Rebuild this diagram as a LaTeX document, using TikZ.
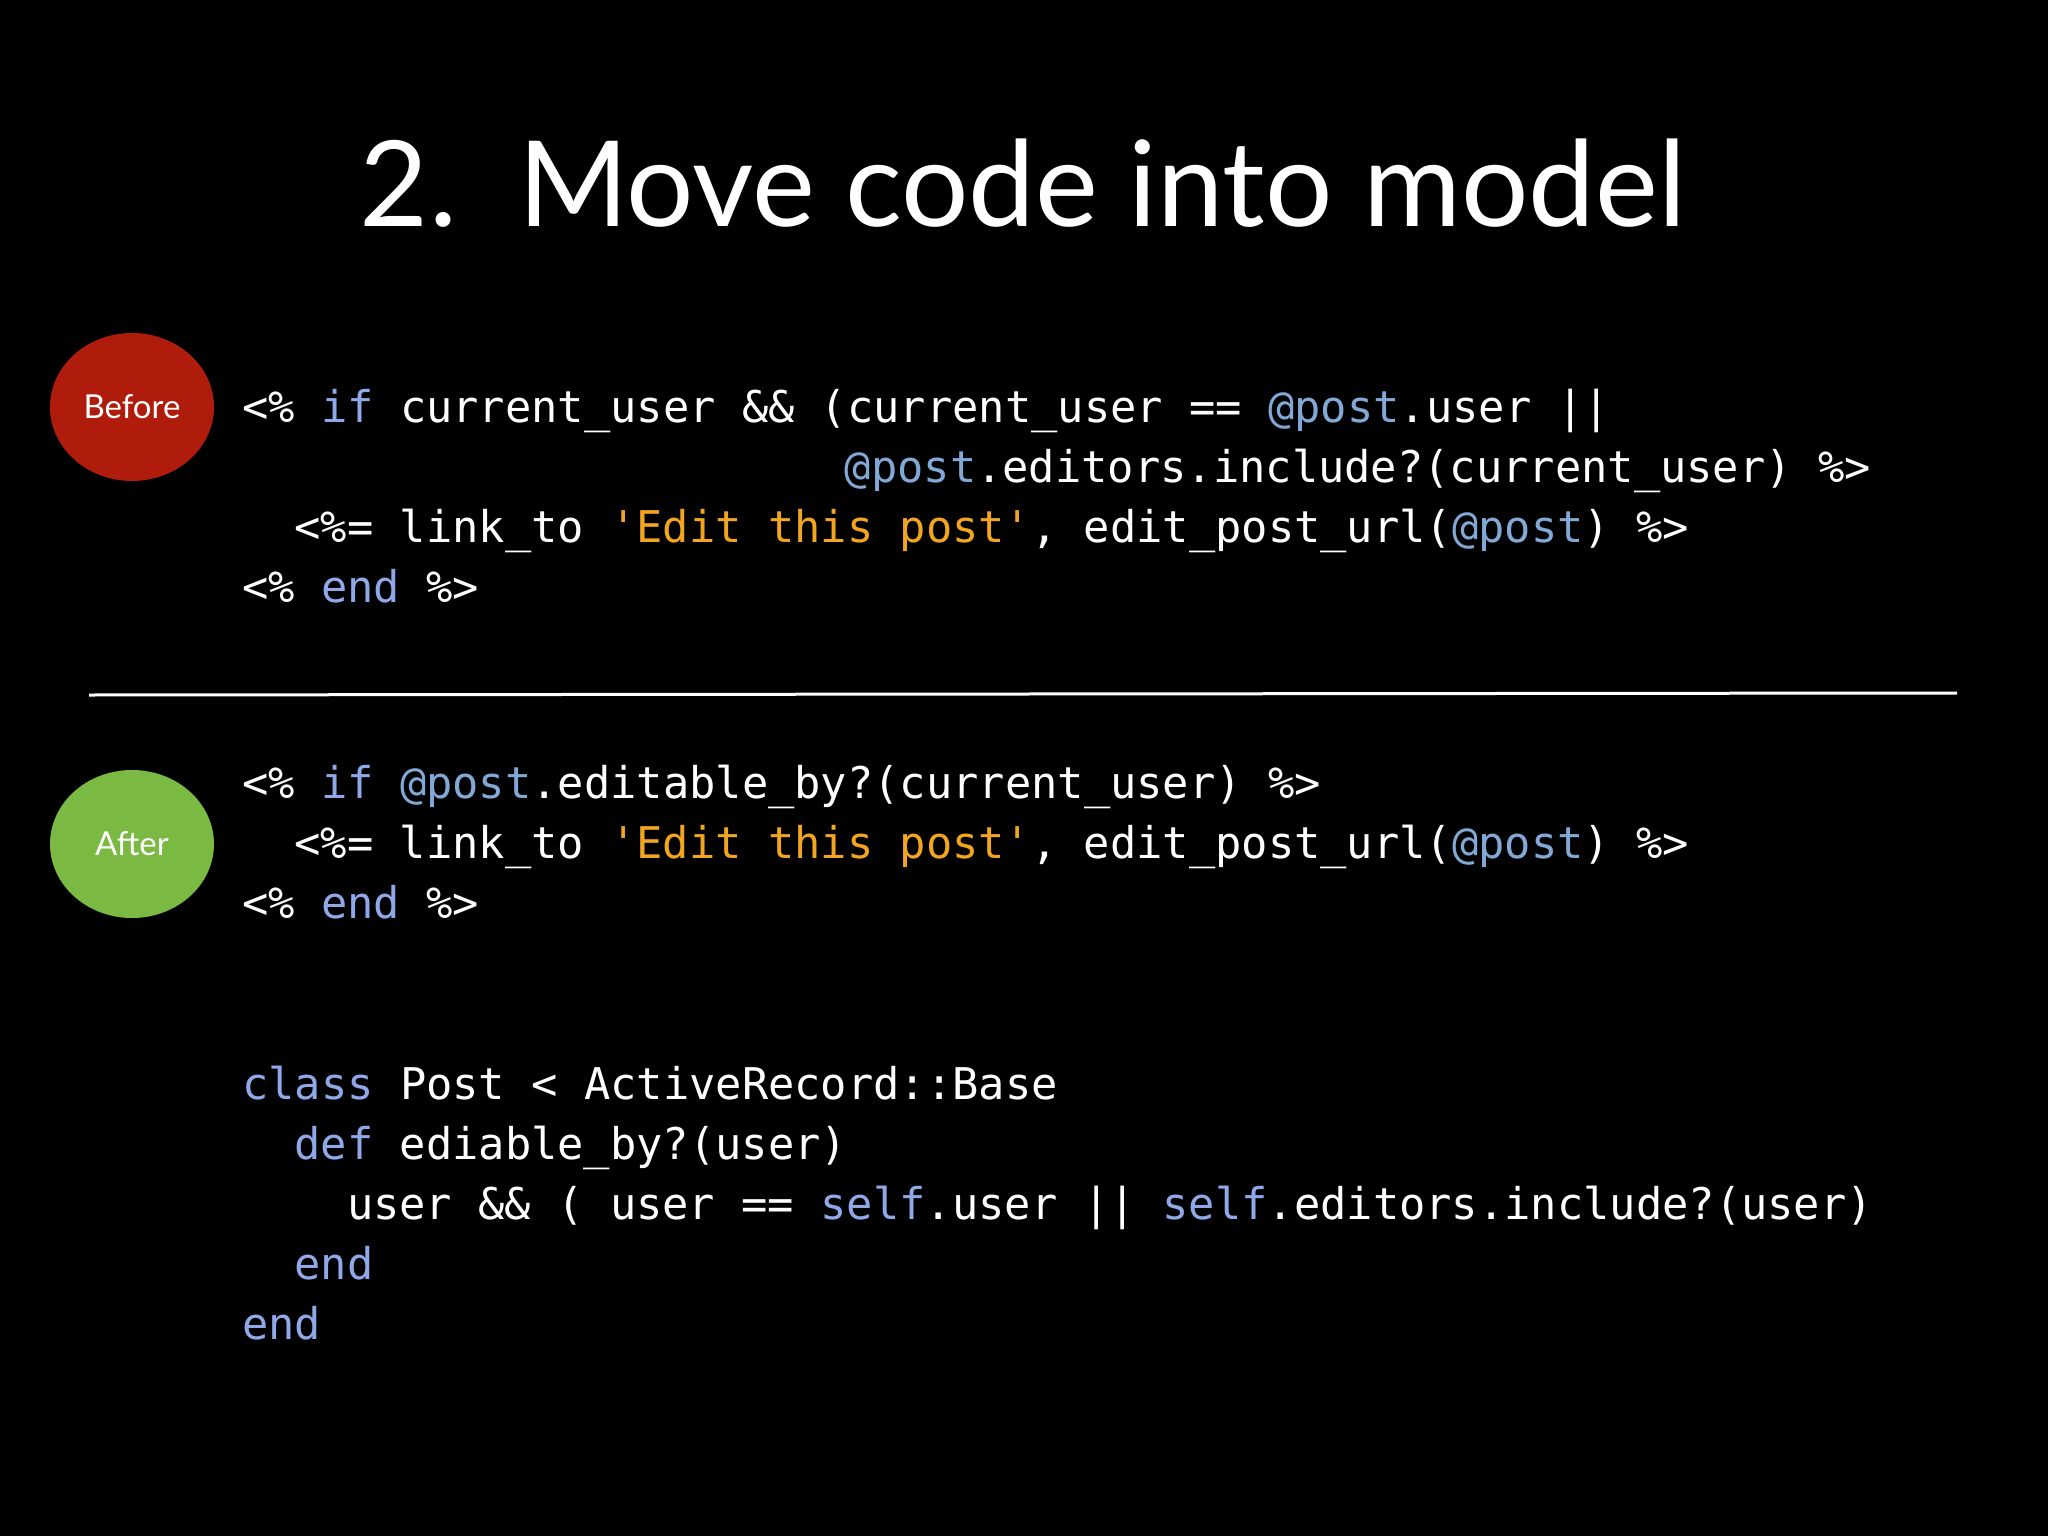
\documentclass[tikz,border=0pt]{standalone}
\usepackage{fontspec}
\usetikzlibrary{shapes.geometric}
\setmainfont{Lato}
\setmonofont{DejaVu Sans Mono}
\definecolor{kw}{HTML}{8FA8E8}
\definecolor{iv}{HTML}{82A9D6}
\definecolor{st}{HTML}{F2A51E}
\definecolor{redc}{HTML}{B01C0C}
\definecolor{grc}{HTML}{7ABA42}
\newcommand\kw[1]{\textcolor{kw}{#1}}
\newcommand\iv[1]{\textcolor{iv}{#1}}
\newcommand\st[1]{\textcolor{st}{#1}}
\begin{document}
\begin{tikzpicture}[x=1pt,y=-1pt,
  code/.style={anchor=base west,inner sep=0pt,text=white,font=\fontsize{43.7}{50}\ttfamily},
  badge/.style={ellipse,minimum width=164pt,minimum height=148pt,inner sep=0pt,text=white,font=\fontsize{33}{38}\selectfont}]
\fill[black] (0,0) rectangle (2048,1536);
\useasboundingbox (0,0) rectangle (2048,1536);
\node[text=white,font=\fontsize{119}{140}\selectfont,anchor=center] (title) at (1023,183) {2.\ \ Move code into model};
\node[badge,fill=redc] (before) at (132,407) {Before};
\node[badge,fill=grc] (after) at (132,844) {After};
\coordinate (l1) at (89,695);
\coordinate (l2) at (1957,693);
\draw[white,line width=3pt] (l1) -- (l2);
\def\cw{26.2}
\node[code] (b1) at (242,422) {<\% \kw{if} current\_user \&\& (current\_user == \iv{@post}.user ||};
\node[code] (b2) at (242+23*\cw,482) {\iv{@post}.editors.include?(current\_user) \%>};
\node[code] (b3) at (242+2*\cw,542) {<\%= link\_to \st{'Edit this post'}, edit\_post\_url(\iv{@post}) \%>};
\node[code] (b4) at (242,602) {<\% \kw{end} \%>};
\node[code] (a1) at (242,798) {<\% \kw{if} \iv{@post}.editable\_by?(current\_user) \%>};
\node[code] (a2) at (242+2*\cw,858) {<\%= link\_to \st{'Edit this post'}, edit\_post\_url(\iv{@post}) \%>};
\node[code] (a3) at (242,918) {<\% \kw{end} \%>};
\node[code] (c1) at (242,1099) {\kw{class} Post < ActiveRecord::Base};
\node[code] (c2) at (242+2*\cw,1159) {\kw{def} ediable\_by?(user)};
\node[code] (c3) at (242+4*\cw,1219) {user \&\& ( user == \kw{self}.user || \kw{self}.editors.include?(user)};
\node[code] (c4) at (242+2*\cw,1279) {\kw{end}};
\node[code] (c5) at (242,1339) {\kw{end}};
\end{tikzpicture}
\end{document}
